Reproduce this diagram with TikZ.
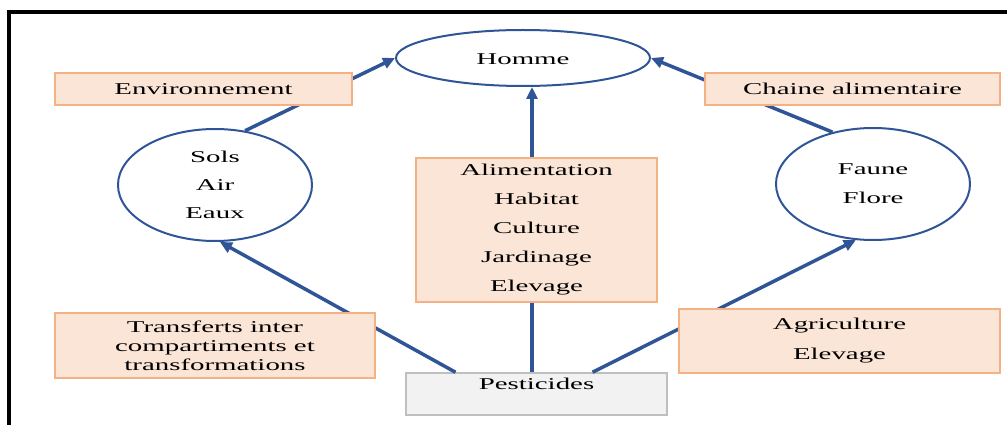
\documentclass[tikz,border=0pt]{standalone}
\usepackage{fontspec}
\setmainfont[FakeStretch=1.75]{Liberation Serif}
\usepackage{xcolor}
\usepackage{tikz}
\usetikzlibrary{shapes,arrows.meta,positioning}

\definecolor{linkblue}{HTML}{2F5597}
\definecolor{boxedge}{HTML}{F4B183}
\definecolor{boxfill}{HTML}{FBE5D6}
\definecolor{pestedge}{HTML}{BFBFBF}
\definecolor{pestfill}{HTML}{F2F2F2}

\begin{document}
\begin{tikzpicture}[x=1pt, y=-1pt,
    circ/.style={draw=linkblue, ellipse, line width=2pt, inner sep=0pt, align=center},
    lbl/.style={draw=boxedge, fill=boxfill, line width=1.5pt, rectangle, inner sep=0pt, align=center},
    link/.style={draw=linkblue, line width=3.5pt, -{Triangle[length=12pt, width=11pt]}}]
        \useasboundingbox (0,0) rectangle (1007,425);
        % Frame (only top and left edges show)
        \draw[line width=3.2pt] (9,425) -- (9,12) -- (1007,12);

        % Target and compartments
        \node[circ, minimum width=254pt, minimum height=56pt, text height=17pt, text depth=4pt, font=\fontsize{16.5}{20}\selectfont] (homme) at (523,58) {Homme};
        \node[circ, minimum width=194pt, minimum height=112pt, font=\fontsize{16.5}{28}\selectfont] (sols) at (215,185) {Sols\\Air\\Eaux};
        \node[circ, minimum width=194pt, minimum height=112pt, font=\fontsize{16.5}{29}\selectfont] (faune) at (873,184) {Faune\\Flore};

        % Source
        \node[draw=pestedge, fill=pestfill, line width=1.5pt, rectangle, inner sep=0pt, minimum width=261pt, minimum height=42pt, text height=12pt, text depth=22pt, font=\fontsize{16.5}{20}\selectfont] (pest) at (536.5,394) {Pesticides};

        % Arrows (drawn before the label boxes, which lie over them)
        \coordinate (stem) at ([xshift=-4.5pt]pest.north);
        \draw[link] (stem) -- (stem |- homme.south);
        \draw[link] ([xshift=-81pt]pest.north) -- (sols.275);
        \draw[link] ([xshift=56pt]pest.north) -- (faune.253);
        \draw[link] (sols.61) -- (homme.west);
        \draw[link] (faune.128) -- (homme.east);

        % Labels on the arrows
        \node[lbl, minimum width=297pt, minimum height=32pt, font=\fontsize{16.5}{20}\selectfont] (env) at (203.5,89) {Environnement};
        \node[lbl, minimum width=295pt, minimum height=32pt, font=\fontsize{16.5}{20}\selectfont] (chaine) at (852.5,89) {Chaine alimentaire};
        \node[lbl, minimum width=241pt, minimum height=144pt, font=\fontsize{16.5}{29}\selectfont] (usage) at (536.5,230) {Alimentation\\Habitat\\Culture\\Jardinage\\Elevage};
        \node[lbl, minimum width=320pt, minimum height=65pt, font=\fontsize{16.5}{19}\selectfont] (transf) at (215,345.5) {Transferts inter\\compartiments et\\transformations};
        \node[lbl, minimum width=321pt, minimum height=64pt, font=\fontsize{16.5}{30}\selectfont] (agri) at (839.5,341) {Agriculture\\Elevage};
    \end{tikzpicture}
\end{document}
